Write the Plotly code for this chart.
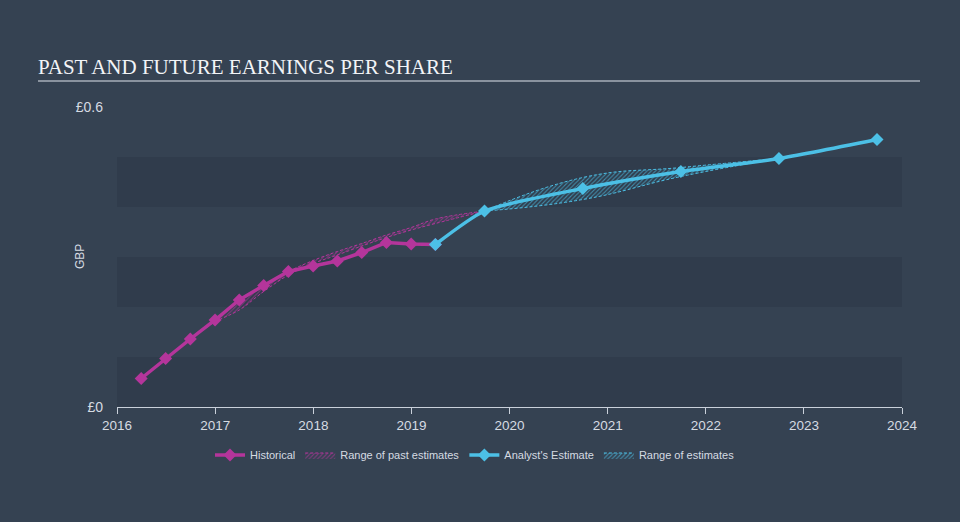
import plotly.graph_objects as go

# ---- data ----
hist_dates = ["2016-03-31", "2016-06-30", "2016-09-30", "2016-12-31", "2017-03-31", "2017-06-30",
              "2017-09-30", "2017-12-31", "2018-03-31", "2018-06-30", "2018-09-30", "2018-12-31",
              "2019-03-31"]
hist_eps = [0.057, 0.097, 0.136, 0.174, 0.214, 0.243, 0.271, 0.282, 0.292, 0.309, 0.329, 0.326, 0.325]

past_range_dates = ["2016-09-30", "2016-12-31", "2017-03-31", "2017-06-30", "2017-09-30", "2017-12-31",
                    "2018-03-31", "2018-06-30", "2018-09-30", "2018-12-31", "2019-03-31", "2019-09-30"]
past_low = [0.136, 0.170, 0.194, 0.231, 0.264, 0.287, 0.304, 0.322, 0.339, 0.354, 0.367, 0.392]
past_high = [0.136, 0.175, 0.212, 0.243, 0.271, 0.293, 0.311, 0.327, 0.344, 0.359, 0.376, 0.392]

est_dates = ["2019-03-31", "2019-09-30", "2020-09-30", "2021-09-30", "2022-09-30", "2023-09-30"]
est_eps = [0.325, 0.392, 0.437, 0.471, 0.497, 0.535]

range_dates = ["2019-09-30", "2020-09-30", "2021-09-30", "2022-09-30"]
range_low = [0.392, 0.415, 0.461, 0.497]
range_high = [0.392, 0.459, 0.479, 0.497]

y_tickvals = [0, 0.6]
y_ticktext = ["£0", "£0.6"]
band_edges = [(0.0, 0.1), (0.2, 0.3), (0.4, 0.5)]

# ---- style ----
BG = "#354252"
BAND = "#303c4c"
MAG = "#b4359b"
CYAN = "#4cc0e6"
TXT = "#d6dbe2"
SANS = "Liberation Sans, Arial, sans-serif"

fig = go.Figure()


def range_traces(dates, low, high, color, name, rank, smooth):
    fig.add_trace(go.Scatter(x=dates, y=low, mode="lines",
                             line=dict(color=color, width=1, dash="3px,2px", shape="spline", smoothing=smooth),
                             showlegend=False, hoverinfo="skip", legendrank=rank))
    fig.add_trace(go.Scatter(x=dates, y=high, mode="lines",
                             line=dict(color=color, width=1, dash="3px,2px", shape="spline", smoothing=smooth),
                             fill="tonexty", fillcolor="rgba(0,0,0,0)",
                             fillpattern=dict(shape="/", fgcolor=color, bgcolor="rgba(0,0,0,0)",
                                              size=3, solidity=0.35, fgopacity=0.6),
                             name=name, legendrank=rank))


range_traces(past_range_dates, past_low, past_high, MAG, "Range of past estimates", 2, 1.0)
range_traces(range_dates, range_low, range_high, CYAN, "Range of estimates", 4, 1.3)

# historical
fig.add_trace(go.Scatter(x=hist_dates, y=hist_eps, mode="lines+markers", name="Historical",
                         line=dict(color=MAG, width=3.5),
                         marker=dict(symbol="diamond", size=10, color=MAG), legendrank=1))
# analyst estimate
fig.add_trace(go.Scatter(x=est_dates, y=est_eps, mode="lines+markers", name="Analyst's Estimate",
                         line=dict(color=CYAN, width=3.5, shape="spline", smoothing=0.6),
                         marker=dict(symbol="diamond", size=10, color=CYAN), legendrank=3))

shapes = []
for y0, y1 in band_edges:
    shapes.append(dict(type="rect", xref="paper", yref="y", x0=0, x1=1, y0=y0, y1=y1,
                       fillcolor=BAND, line=dict(width=0), layer="below"))
# title underline
shapes.append(dict(type="line", xref="paper", yref="paper", x0=(38 - 117) / 785, x1=(920 - 117) / 785,
                   y0=(407 - 81) / 300, y1=(407 - 81) / 300, line=dict(color="#a7afba", width=1.5)))

fig.update_layout(
    width=960, height=522,
    margin=dict(l=117, r=58, t=107, b=115, autoexpand=False),
    paper_bgcolor=BG, plot_bgcolor=BG,
    shapes=shapes,
    title=dict(text="PAST AND FUTURE EARNINGS PER SHARE", x=38 / 960, xanchor="left", xref="container",
               y=1 - 67 / 522, yanchor="middle", yref="container",
               font=dict(family="Liberation Serif, Times New Roman, serif", size=21, color="#f2f4f7")),
    xaxis=dict(type="date", range=["2016-01-01", "2024-01-01"], showgrid=False, zeroline=False,
               showline=True, linecolor="#c9d0da", linewidth=1, ticks="outside", ticklen=6, tickcolor="#c9d0da",
               dtick="M12", tickformat="%Y", tickfont=dict(family=SANS, size=13.5, color=TXT)),
    yaxis=dict(range=[0, 0.6], showgrid=False, zeroline=False, showline=False,
               tickvals=y_tickvals, ticktext=y_ticktext, ticks="", ticklabelstandoff=13,
               tickfont=dict(family=SANS, size=14, color=TXT)),
    legend=dict(orientation="h", x=(475 - 117) / 785, xref="paper", xanchor="center", y=(407 - 455) / 300,
                yanchor="middle", font=dict(family=SANS, size=11, color=TXT), bgcolor="rgba(0,0,0,0)",
                itemwidth=30, traceorder="normal"),
    annotations=[dict(text="GBP", textangle=-90, xref="paper", yref="paper", x=(80 - 117) / 785, y=0.5,
                      xanchor="center", yanchor="middle", showarrow=False,
                      font=dict(family=SANS, size=12, color=TXT))],
    showlegend=True,
)

fig.write_html("out.html")
